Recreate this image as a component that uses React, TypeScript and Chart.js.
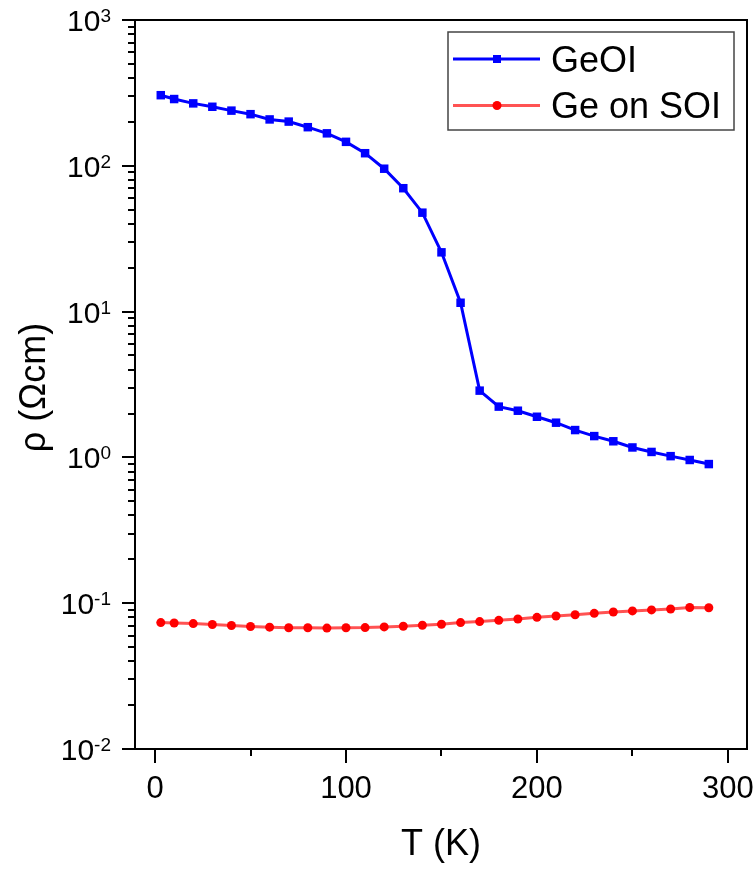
import React, { useEffect, useRef } from "react";
import { Chart, registerables } from "chart.js";

Chart.register(...registerables);

const temps = [3, 10, 20, 30, 40, 50, 60, 70, 80, 90, 100, 110, 120, 130, 140, 150, 160, 170, 180, 190, 200, 210, 220, 230, 240, 250, 260, 270, 280, 290];
const geoi = [305, 287, 268, 254, 239, 226, 208, 201, 184, 167, 146, 122, 95.5, 70.2, 47.7, 25.5, 11.5, 2.87, 2.23, 2.09, 1.9, 1.73, 1.54, 1.4, 1.29, 1.17, 1.09, 1.02, 0.96, 0.9];
const geOnSoi = [0.0736, 0.0732, 0.0725, 0.0714, 0.0703, 0.0692, 0.0685, 0.0678, 0.0678, 0.0675, 0.0678, 0.068, 0.0688, 0.0695, 0.0706, 0.0717, 0.0736, 0.0748, 0.0763, 0.0779, 0.08, 0.0817, 0.0834, 0.0852, 0.087, 0.0885, 0.0899, 0.0913, 0.0934, 0.093];

const seriesNames = ["GeOI", "Ge on SOI"];
const xMajorTicks = [0, 100, 200, 300];
const xMinorTicks = [50, 150, 250];
const yDecades = [-2, -1, 0, 1, 2, 3];
const xTitle = "T (K)";
const yTitle = "ρ (Ωcm)";

const FONT = '"Liberation Sans", Arial, Helvetica, sans-serif';

const axesPlugin = {
  id: "originAxes",
  afterDraw(chart: any) {
    const ctx = chart.ctx as CanvasRenderingContext2D;
    const { left, right, top, bottom } = chart.chartArea;
    const xs = chart.scales.x;
    const ys = chart.scales.y;
    ctx.save();
    ctx.strokeStyle = "#000";
    ctx.fillStyle = "#000";
    ctx.lineWidth = 2;
    ctx.strokeRect(left, top, right - left, bottom - top);

    // x ticks
    ctx.beginPath();
    for (const v of xMajorTicks) {
      const px = Math.round(xs.getPixelForValue(v));
      ctx.moveTo(px, bottom);
      ctx.lineTo(px, bottom + 14);
    }
    for (const v of xMinorTicks) {
      const px = Math.round(xs.getPixelForValue(v));
      ctx.moveTo(px, bottom);
      ctx.lineTo(px, bottom + 7);
    }
    // y ticks
    for (const d of yDecades) {
      const py = Math.round(ys.getPixelForValue(Math.pow(10, d)));
      ctx.moveTo(left, py);
      ctx.lineTo(left - 13, py);
      if (d < yDecades[yDecades.length - 1]) {
        for (let m = 2; m <= 9; m++) {
          const pm = Math.round(ys.getPixelForValue(m * Math.pow(10, d)));
          ctx.moveTo(left, pm);
          ctx.lineTo(left - 7, pm);
        }
      }
    }
    ctx.stroke();

    // x labels
    ctx.font = `31px ${FONT}`;
    ctx.textAlign = "center";
    ctx.textBaseline = "alphabetic";
    for (const v of xMajorTicks) {
      ctx.fillText(String(v), xs.getPixelForValue(v), bottom + 49);
    }

    // y labels
    const labelRight = left - 24;
    for (const d of yDecades) {
      const py = ys.getPixelForValue(Math.pow(10, d));
      const sup = String(d);
      ctx.font = `19px ${FONT}`;
      const supW = ctx.measureText(sup).width;
      ctx.textAlign = "left";
      ctx.fillText(sup, labelRight - supW, py + 2);
      ctx.font = `30px ${FONT}`;
      ctx.textAlign = "right";
      ctx.fillText("10", labelRight - supW, py + 11);
    }

    // titles
    ctx.font = `36px ${FONT}`;
    ctx.textAlign = "center";
    ctx.fillText(xTitle, (left + right) / 2, 855);
    ctx.save();
    ctx.translate(45, (top + bottom) / 2 + 3);
    ctx.rotate(-Math.PI / 2);
    ctx.fillText(yTitle, 0, 0);
    ctx.restore();

    // legend
    const bx = right - 299;
    const by = top + 12;
    const bw = 286;
    const bh = 98;
    ctx.fillStyle = "#fff";
    ctx.fillRect(bx, by, bw, bh);
    ctx.strokeStyle = "#444";
    ctx.lineWidth = 1.5;
    ctx.strokeRect(bx, by, bw, bh);
    const rows = [by + 27, by + 73.5];
    chart.data.datasets.forEach((ds: any, i: number) => {
      const ly = rows[i];
      ctx.strokeStyle = ds.borderColor;
      ctx.lineWidth = 3;
      ctx.beginPath();
      ctx.moveTo(bx + 5, ly);
      ctx.lineTo(bx + 92, ly);
      ctx.stroke();
      ctx.fillStyle = ds.pointBackgroundColor;
      const mx = bx + 49;
      if (ds.pointStyle === "rect") {
        ctx.fillRect(mx - 4, ly - 4, 8, 8);
      } else {
        ctx.beginPath();
        ctx.arc(mx, ly, 4.5, 0, Math.PI * 2);
        ctx.fill();
      }
      ctx.fillStyle = "#000";
      ctx.font = `36px ${FONT}`;
      ctx.textAlign = "left";
      ctx.textBaseline = "alphabetic";
      ctx.fillText(ds.label, bx + 103, ly + 12.5);
    });
    ctx.restore();
  },
};

export default function App() {
  const ref = useRef<HTMLCanvasElement | null>(null);
  useEffect(() => {
    if (!ref.current) return;
    const chart = new Chart(ref.current, {
      type: "line",
      data: {
        datasets: [
          {
            label: seriesNames[0],
            data: temps.map((t, i) => ({ x: t, y: geoi[i] })),
            borderColor: "#0000ff",
            backgroundColor: "#0000ff",
            pointBackgroundColor: "#0000ff",
            pointBorderColor: "#0000ff",
            pointStyle: "rect",
            pointRadius: 6,
            pointBorderWidth: 0,
            borderWidth: 3,
            tension: 0,
          },
          {
            label: seriesNames[1],
            data: temps.map((t, i) => ({ x: t, y: geOnSoi[i] })),
            borderColor: "rgba(255,40,40,0.8)",
            backgroundColor: "#ff0000",
            pointBackgroundColor: "#ff0000",
            pointBorderColor: "#ff0000",
            pointStyle: "circle",
            pointRadius: 4.5,
            pointBorderWidth: 0,
            borderWidth: 3,
            tension: 0,
          },
        ],
      },
      options: {
        responsive: false,
        animation: false,
        layout: { padding: { top: 20, right: 9, left: 0, bottom: 0 } },
        plugins: { legend: { display: false }, tooltip: { enabled: false } },
        scales: {
          x: {
            type: "linear",
            min: -10.5,
            max: 310,
            grid: { display: false },
            border: { display: false },
            ticks: { display: false },
            afterFit: (s: any) => {
              s.height = 120;
            },
          },
          y: {
            type: "logarithmic",
            min: 0.01,
            max: 1000,
            grid: { display: false },
            border: { display: false },
            ticks: { display: false },
            afterFit: (s: any) => {
              s.width = 135;
            },
          },
        },
      },
      plugins: [axesPlugin],
    } as any);
    return () => chart.destroy();
  }, []);
  return (
    <div style={{ position: "fixed", left: 0, top: 0, width: 756, height: 869, background: "#fff" }}>
      <canvas ref={ref} width={756} height={869} style={{ display: "block" }} />
    </div>
  );
}
